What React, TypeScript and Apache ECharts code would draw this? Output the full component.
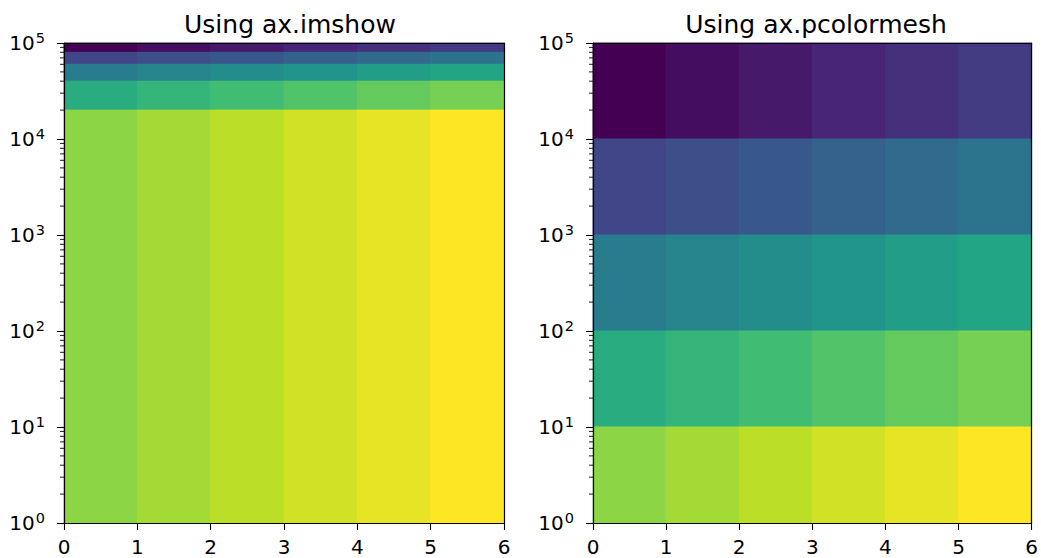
import React, { useEffect, useRef } from "react";
import * as echarts from "echarts";

// ---- data ----
const xEdges = [0, 1, 2, 3, 4, 5, 6];
const imshowYEdges = [0, 20000, 40000, 60000, 80000, 100000];
const meshYEdges = [1, 10, 100, 1000, 10000, 100000];
// rows listed from top to bottom
const Z = [
  [0, 1, 2, 3, 4, 5],
  [6, 7, 8, 9, 10, 11],
  [12, 13, 14, 15, 16, 17],
  [18, 19, 20, 21, 22, 23],
  [24, 25, 26, 27, 28, 29],
];
const xTicks = [0, 1, 2, 3, 4, 5, 6];
const titles = ["Using ax.imshow", "Using ax.pcolormesh"];
const viridis = [
  "#440154", "#482475", "#414487", "#355f8d", "#2a788e", "#21918c",
  "#22a884", "#44bf70", "#7ad151", "#bddf26", "#fde725",
];
const minorTicks: number[] = [];
for (let k = 0; k < 5; k++) for (let m = 2; m <= 9; m++) minorTicks.push(m * Math.pow(10, k));

function cells(yEdges: number[]) {
  const out: number[][] = [];
  const nRows = Z.length;
  for (let r = 0; r < nRows; r++) {
    const b = nRows - 1 - r;
    for (let c = 0; c < Z[r].length; c++) {
      out.push([xEdges[c], xEdges[c + 1], yEdges[b], yEdges[b + 1], Z[r][c]]);
    }
  }
  return out;
}

const FONT = "DejaVu Sans";

export default function App() {
  const ref = useRef<HTMLDivElement>(null);
  useEffect(() => {
    const chart = echarts.init(ref.current!, undefined, { renderer: "svg" });
    const grids = [
      { left: 64, right: 537, top: 43, bottom: 35 },
      { left: 593, right: 9, top: 43, bottom: 35 },
    ];
    const xAxes: any[] = [];
    const yAxes: any[] = [];
    [0, 1].forEach((g) => {
      xAxes.push({
        type: "value", gridIndex: g, min: 0, max: 6, interval: 1, position: "bottom", z: 10,
        axisLine: { show: true, lineStyle: { color: "#000", width: 1.2 } },
        axisTick: { show: true, inside: false, length: 7, lineStyle: { color: "#000", width: 1.1 } },
        axisLabel: { show: true, color: "#000", fontSize: 20, fontFamily: FONT, margin: 14,
          formatter: (v: number) => (xTicks.indexOf(v) >= 0 ? String(v) : "") },
        splitLine: { show: false },
      });
      xAxes.push({
        type: "value", gridIndex: g, min: 0, max: 6, position: "top", z: 10,
        axisLine: { show: true, onZero: false, lineStyle: { color: "#000", width: 1.2 } },
        axisTick: { show: false }, axisLabel: { show: false }, splitLine: { show: false },
      });
      yAxes.push({
        type: "log", logBase: 10, gridIndex: g, min: 1, max: 100000, position: "left", z: 10,
        axisLine: { show: true, onZero: false, lineStyle: { color: "#000", width: 1.2 } },
        axisTick: { show: true, inside: false, length: 7, lineStyle: { color: "#000", width: 1.1 } },
        axisLabel: {
          show: true, color: "#000", fontSize: 20, fontFamily: FONT, margin: 19,
          formatter: (v: number) => "10{s|" + Math.round(Math.log10(v)) + "}",
          rich: { s: { fontSize: 14.5, fontFamily: FONT, color: "#000", padding: [0, 0, 11, 1] } },
        },
        splitLine: { show: false },
      });
      yAxes.push({
        type: "log", logBase: 10, gridIndex: g, min: 1, max: 100000, position: "right", z: 10,
        axisLine: { show: true, onZero: false, lineStyle: { color: "#000", width: 1.2 } },
        axisTick: { show: false }, axisLabel: { show: false }, splitLine: { show: false },
      });
    });

    const cellSeries = (g: number, yEdges: number[]) => ({
      type: "custom",
      xAxisIndex: g * 2,
      yAxisIndex: g * 2,
      data: cells(yEdges),
      encode: { x: [0, 1], y: [3] },
      renderItem: (params: any, api: any) => {
        const y0 = Math.max(api.value(2), 1);
        const p0 = api.coord([api.value(0), y0]);
        const p1 = api.coord([api.value(1), api.value(3)]);
        const col = api.visual("color");
        return {
          type: "rect",
          shape: { x: p0[0], y: p1[1], width: p1[0] - p0[0], height: p0[1] - p1[1] },
          style: { fill: col, stroke: col, lineWidth: 1 },
        };
      },
    });
    const minorSeries = (g: number) => ({
      type: "custom",
      xAxisIndex: g * 2,
      yAxisIndex: g * 2,
      clip: false,
      z: 20,
      data: minorTicks.map((v) => [0, v]),
      renderItem: (params: any, api: any) => {
        const p = api.coord([api.value(0), api.value(1)]);
        return {
          type: "line",
          shape: { x1: p[0] - 4, y1: p[1], x2: p[0], y2: p[1] },
          style: { stroke: "#000", lineWidth: 0.9 },
        };
      },
    });

    chart.setOption({
      animation: false,
      backgroundColor: "#fff",
      title: titles.map((t, i) => ({
        text: t,
        left: i === 0 ? 285 : 811,
        top: 7,
        textAlign: "center",
        textStyle: { fontSize: 25, fontWeight: "normal", fontFamily: FONT, color: "#000" },
      })),
      grid: grids,
      xAxis: xAxes,
      yAxis: yAxes,
      visualMap: {
        type: "continuous", show: false, min: 0, max: 29, dimension: 4,
        seriesIndex: [0, 1], inRange: { color: viridis },
      },
      series: [cellSeries(0, imshowYEdges), cellSeries(1, meshYEdges), minorSeries(0), minorSeries(1)],
    });
    return () => chart.dispose();
  }, []);
  return (
    <div
      ref={ref}
      style={{ position: "fixed", left: 0, top: 0, width: 1041, height: 558, background: "#fff" }}
    />
  );
}
